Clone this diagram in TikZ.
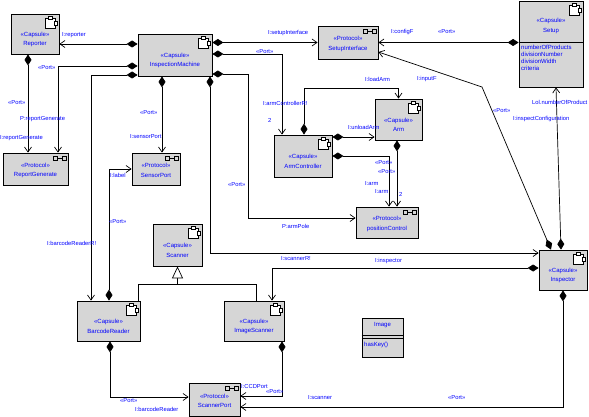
\documentclass[tikz,border=0pt]{standalone}
\usepackage{fontspec}
\setmainfont{Liberation Sans}
\usetikzlibrary{arrows.meta}
\definecolor{umlblue}{RGB}{0,0,255}
\definecolor{umlgray}{RGB}{214,214,214}
\tikzset{
  box/.style={draw, fill=umlgray, line width=0.8pt, inner sep=0pt},
  txt/.style={font=\fontsize{6}{9.5}\selectfont, text=umlblue, inner sep=0pt, align=center},
  lbl/.style={font=\fontsize{5.8}{6}\selectfont, text=umlblue, inner sep=0pt, anchor=west},
  conn/.style={line width=0.7pt, -{Straight Barb[length=5pt,width=7pt]}},
  dconn/.style={line width=0.7pt, {Diamond[length=11pt,width=7pt]}-{Straight Barb[length=5pt,width=7pt]}},
  gen/.style={line width=0.7pt, -{Triangle[length=12pt,width=11pt,fill=white]}},
  capsule icon/.pic={
    \draw[fill=white, line width=0.5pt] (-14,5) rectangle (-4,15);
    \draw[fill=white, line width=0.5pt] (-11,3) rectangle (-7,6);
    \draw[fill=white, line width=0.5pt] (-5,8) rectangle (-2,12);
  },
  protocol icon/.pic={
    \draw[line width=0.5pt] (-15,4) rectangle (-11,8) (-6,4) rectangle (-2,8);
    \draw[line width=0.5pt] (-11,6) -- (-6,6);
  }
}

\begin{document}
\begin{tikzpicture}[x=1pt, y=-1pt]
  \useasboundingbox (0,0) rectangle (589,417);
  % capsules
  \foreach \n/\cx/\cy/\w/\h/\t in {reporter/35/34/48/40/Reporter, im/175/55/74/42/InspectionMachine,
      armctl/303/156/58/42/ArmController, arm/398.5/119.5/47/41/Arm, scanner/177.5/245/49/42/Scanner,
      barcode/108.5/321/63/40/BarcodeReader, imgscan/254/321/60/40/ImageScanner,
      inspector/563/270/48/40/Inspector} {
    \node[box, minimum width=\w pt, minimum height=\h pt] (\n) at (\cx,\cy) {};
    \node[txt] (\n-txt) at ([yshift=-5.5pt]\n.center) {«Capsule»\\\t};
    \pic at (\n.north east) {capsule icon};
  }
  % protocols
  \foreach \n/\cx/\cy/\w/\h/\t in {setupif/348/42.5/60/33/SetupInterface, repgen/35.5/169/65/32/ReportGenerate,
      sensor/156/169/48/32/SensorPort, posctl/387/222.5/62/31/positionControl,
      scanport/214.5/399.5/51/33/ScannerPort} {
    \node[box, minimum width=\w pt, minimum height=\h pt] (\n) at (\cx,\cy) {};
    \node[txt] (\n-txt) at ([yshift=-1.5pt]\n.center) {«Protocol»\\\t};
    \pic at (\n.north east) {protocol icon};
  }
  % setup capsule with attributes
  \node[box, minimum width=64pt, minimum height=86pt] (setup) at (551,44) {};
  \node[txt] (setup-txt) at (551,26) {«Capsule»\\Setup};
  \pic at (setup.north east) {capsule icon};
  \draw[line width=0.8pt] (setup.west |- 0,42) -- (setup.east |- 0,42);
  \node[txt, align=left, anchor=north west, font=\fontsize{6}{7}\selectfont] (setup-attr) at (521,45)
    {numberOfProducts\\divisionNumber\\divisionWidth\\criteria};
  % image class
  \node[box, minimum width=41pt, minimum height=39pt] (image) at (382.5,337.5) {};
  \node[txt] (image-txt) at (382.5,325) {Image};
  \draw[line width=0.6pt] (image.west |- 0,335) -- (image.east |- 0,335)
                          (image.west |- 0,338) -- (image.east |- 0,338);
  \node[txt, anchor=west] (image-op) at (364,345) {hasKey()};

  % connectors
  \draw[dconn] (im.west |- 0,44) -- (reporter.east |- 0,44);
  \draw[dconn] (reporter.south -| 28,0) -- (repgen.north -| 28,0);
  \draw[dconn] (im.west |- 0,66) -| (repgen.north -| 58,0);
  \draw[dconn] (im.west |- 0,75) -| (barcode.north -| 91,0);
  \draw[dconn] (barcode.north -| 109,0) |- (sensor.west);
  \draw[dconn] (im.south -| 162,0) -- (sensor.north -| 162,0);
  \draw[dconn] (im.east |- setupif.west) -- (setupif.west);
  \draw[dconn] (im.east |- 0,54) -| (armctl.north -| 282,0);
  \draw[dconn] (im.east |- 0,74) -- (248,74) |- (posctl.west |- 0,218);
  \draw[dconn] (im.south -| 210,0) |- (inspector.west |- 0,253);
  \draw[dconn] (inspector.west |- 0,268) -| (imgscan.north -| 272,0);
  \draw[dconn] (setup.west |- setupif.east) -- (setupif.east);
  \draw[dconn] (inspector.north -| 551,0) -- (482,87) -- (setupif.east |- 0,52);
  \draw[dconn] (inspector.north -| 561,0) -- (setup.south -| 556,0);
  \draw[dconn] (armctl.north -| 304,0) |- (arm.north |- 0,88) -- (arm.north);
  \draw[dconn] (armctl.east |- 0,137) -- (arm.west |- 0,137);
  \draw[dconn] (armctl.east |- 0,156) -| (posctl.north -| 389,0);
  \draw[dconn] (arm.south -| 397,0) -- (posctl.north -| 397,0);
  \draw[dconn] (barcode.south -| 110,0) |- (scanport.west |- 0,397);
  \draw[dconn] (imgscan.south -| 282,0) |- (scanport.east |- 0,396);
  \draw[dconn] (inspector.south) |- (scanport.east |- 0,407);
  % generalization
  \draw[line width=0.7pt] (barcode.north -| 138,0) -- (138,284) -- (256,284) -- (imgscan.north -| 256,0);
  \draw[gen] (scanner.south |- 0,284) -- (scanner.south);

  % connector labels
  \foreach \lx/\ly/\lt [count=\i] in {62/35/I:reporter, 38/68/«Port», 8/103/«Port», 20/119/P:reportGenerate,
      0/138/I:reportGenerate, 140/113/«Port», 130/137/I:sensorPort, 110/175/I:label,
      47/243/I:barcodeReaderR!, 109/222/«Port», 268/33/I:setupInterface, 256/52/«Port»,
      263/103/I:armControllerR!, 268/120/2, 228/185/«Port», 282/226/P:armPole,
      281/259/I:scannerR!, 375/261/I:inspector, 391/32/I:configF, 438/32/«Port»,
      417/79/I:inputF, 493/111/«Port», 513/119/I:inspectConfiguration, 532/102/Lol.numberOfProduct,
      365/79/I:loadArm, 348/127/I:unloadArm, 375/163/«Port», 378/172/«Port»,
      365/184/I:arm, 375/192/I:arm, 399/194/2, 120/401/«Port», 135/409/I:barcodeReader,
      241/387/I:CCDPort, 266/392/«Port», 308/398/I:scanner, 448/398/«Port»} {
    \node[lbl] (lbl\i) at (\lx,\ly) {\lt};
  }
\end{tikzpicture}
\end{document}
